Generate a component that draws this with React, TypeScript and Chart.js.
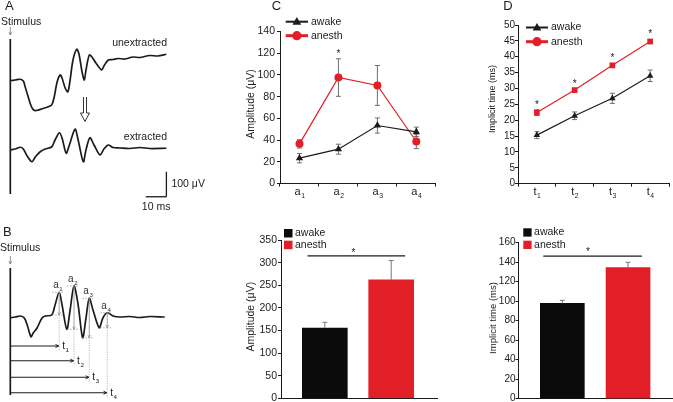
import React, { useEffect, useRef } from 'react';
import { Chart, registerables } from 'chart.js';

Chart.register(...registerables);

const FONT = "'Liberation Sans', Arial, Helvetica, sans-serif";
const INK = '#1b1b1b';
const RED = '#e21f26';

// ---------- Panel A / B waveforms (time in ms, amplitude in µV relative to each trace's baseline) ----------
const unextractedTime = [0, 2.4, 4.8, 6.3, 7.2, 8.7, 10.1, 11.3, 12.6, 15.5, 19.3, 20.3, 21.3, 22.7, 24.2, 25.1, 26.6, 27.9, 29, 30.4, 32.2, 33.3, 34.8, 35.9, 36.7, 38.3, 39.6, 41.5, 44.3, 45.4, 47.5, 49.8, 52.2, 55.6, 59.4, 62.8, 67.6, 71.5, 75.7];
const unextractedAmp = [0, 3, 6, -1, -24, -65, -101, -117, -119, -112, -101, -93, -65, -5, 23, 11, -29, -44, 3, 83, 126, 107, 35, 3, 43, 103, 95, 71, 43, 59, 83, 85, 89, 87, 95, 93, 101, 99, 106];
const extractedTime = [0, 2.4, 4.8, 6.3, 8.2, 10.5, 12.1, 14.5, 16.9, 20.1, 21.7, 23.8, 25.1, 27.1, 28.5, 31.4, 32.9, 35.4, 36.7, 38.6, 40.6, 43.5, 45.4, 47.5, 49.8, 53.1, 58, 62.8, 67.6, 75.7];
const extractedAmp = [0, 4, 11, 4, -24, -47, -28, -7, 4, 13, 40, 69, 48, -13, 16, 83, 40, -47, 0, 49, 20, -20, 4, 20, 10, 8, 6, 10, 6, 7];
const bTime = [0, 2.4, 4.8, 6.8, 8.2, 10, 11.1, 12.9, 15.3, 16.9, 20.1, 21.7, 23.7, 25.1, 27.4, 29, 30.9, 32.9, 35.1, 36.7, 38.3, 40.1, 43.1, 44.9, 47, 49.9, 53.1, 58, 62.8, 67.6, 74.9];
const bAmp = [0, 3, 7, -1, -29, -76, -61, -42, -2, 7, 11, 51, 102, 51, -46, 31, 127, 51, -80, -1, 78, 31, -40, -1, 20, 7, 3, 5, 1, 5, 3];
const bPeakLabels = ['1', '2', '3', '4'];
const bPeakTime = [23.7, 30.9, 38.3, 47];
const bPeakAmp = [102, 127, 78, 20];
const bTroughAmp = [11, -46, -80, -40];

// ---------- Panel C ----------
const ampCategories = ['1', '2', '3', '4'];
const ampAwake = [23.3, 31.6, 53.4, 47.6];
const ampAwakeErr = [4.3, 4.6, 7, 4.3];
const ampAnesth = [36.5, 97.6, 90.3, 38.7];
const ampAnesthErr = [3.8, 17.3, 18.4, 6.6];
const ampStars: (number | null)[] = [null, 121.6, null, null];
const groups = ['awake', 'anesth'];
const ampSum = [155, 262];
const ampSumErr = [13, 42.5];
const ampSigX = [-0.26, 1.21];
const ampSigY = 315;
const ampSumStar = [0.43, 328];

// ---------- Panel D ----------
const timeCategories = ['1', '2', '3', '4'];
const timeAwake = [15.3, 21.4, 26.9, 34];
const timeAwakeErr = [1.1, 1.2, 1.6, 1.8];
const timeAnesth = [22.4, 29.5, 37.3, 44.8];
const timeAnesthErr = [0.9, 0.5, 0.5, 0.7];
const timeStars: (number | null)[] = [25.8, 32.4, 40.5, 47.9];
const timeSum = [97.8, 134.4];
const timeSumErr = [3.1, 5.5];
const timeSigX = [-0.29, 1.21];
const timeSigY = 146.3;
const timeSumStar = [0.39, 153];

// ---------- drawing helpers ----------
function txt(ctx: any, s: string, x: number, y: number, size: number, align = 'left', color = INK) {
  ctx.save();
  ctx.font = `${size}px ${FONT}`;
  ctx.fillStyle = color;
  ctx.textAlign = align;
  ctx.textBaseline = 'middle';
  ctx.fillText(s, x, y);
  ctx.restore();
}
function vTitle(ctx: any, s: string, x: number, y: number, size: number) {
  ctx.save();
  ctx.translate(x, y);
  ctx.rotate(-Math.PI / 2);
  txt(ctx, s, 0, 0, size, 'center');
  ctx.restore();
}
function subLabel(ctx: any, main: string, sub: string, cx: number, baseline: number, size: number, color = INK, align = 'center') {
  ctx.save();
  ctx.fillStyle = color;
  ctx.textAlign = 'left';
  ctx.textBaseline = 'alphabetic';
  ctx.font = `${size}px ${FONT}`;
  const wm = ctx.measureText(main).width;
  const ss = size * 0.62;
  ctx.font = `${ss}px ${FONT}`;
  const ws = ctx.measureText(sub).width;
  const x0 = align === 'center' ? cx - (wm + ws) / 2 : cx;
  ctx.font = `${size}px ${FONT}`;
  ctx.fillText(main, x0, baseline);
  ctx.font = `${ss}px ${FONT}`;
  ctx.fillText(sub, x0 + wm + 0.6, baseline + size * 0.32);
  ctx.restore();
}
function star(ctx: any, x: number, yc: number, size = 10) {
  ctx.save();
  ctx.font = `${size}px ${FONT}`;
  ctx.fillStyle = INK;
  ctx.textAlign = 'center';
  ctx.textBaseline = 'alphabetic';
  ctx.fillText('*', x, yc + size * 0.58);
  ctx.restore();
}
function seg(ctx: any, x1: number, y1: number, x2: number, y2: number, color = INK, w = 1, dash: number[] = []) {
  ctx.save();
  ctx.strokeStyle = color;
  ctx.lineWidth = w;
  ctx.setLineDash(dash);
  ctx.beginPath();
  ctx.moveTo(x1, y1);
  ctx.lineTo(x2, y2);
  ctx.stroke();
  ctx.restore();
}
function arrow(ctx: any, x1: number, y1: number, x2: number, y2: number, color = INK, w = 1, head = 4) {
  seg(ctx, x1, y1, x2, y2, color, w);
  const a = Math.atan2(y2 - y1, x2 - x1);
  ctx.save();
  ctx.strokeStyle = color;
  ctx.lineWidth = w;
  ctx.beginPath();
  ctx.moveTo(x2 - head * Math.cos(a - 0.45), y2 - head * Math.sin(a - 0.45));
  ctx.lineTo(x2, y2);
  ctx.lineTo(x2 - head * Math.cos(a + 0.45), y2 - head * Math.sin(a + 0.45));
  ctx.stroke();
  ctx.restore();
}
function errBar(ctx: any, x: number, yTop: number, yBot: number, color: string, cap = 5) {
  seg(ctx, x, yTop, x, yBot, color, 1);
  seg(ctx, x - cap / 2, yTop, x + cap / 2, yTop, color, 1);
  seg(ctx, x - cap / 2, yBot, x + cap / 2, yBot, color, 1);
}
function marker(ctx: any, kind: string, x: number, y: number, r: number, color: string) {
  ctx.save();
  ctx.fillStyle = color;
  ctx.beginPath();
  if (kind === 'triangle') {
    ctx.moveTo(x, y - r);
    ctx.lineTo(x + r * 0.95, y + r * 0.65);
    ctx.lineTo(x - r * 0.95, y + r * 0.65);
    ctx.closePath();
  } else if (kind === 'rect') {
    ctx.rect(x - r, y - r, 2 * r, 2 * r);
  } else {
    ctx.arc(x, y, r, 0, Math.PI * 2);
  }
  ctx.fill();
  ctx.restore();
}

// ---------- line chart (top panels C / D) ----------
function lineConfig(p: any) {
  const decor = {
    id: 'decor' + p.letter,
    beforeDatasetsDraw(chart: any) {
      const ctx = chart.ctx;
      const xs = chart.scales.x;
      const ys = chart.scales.y;
      [[p.awake, p.awakeErr], [p.anesth, p.anesthErr]].forEach(([vals, errs]: any) => {
        vals.forEach((v: number, i: number) => {
          errBar(ctx, xs.getPixelForValue(i), ys.getPixelForValue(v + errs[i]), ys.getPixelForValue(v - errs[i]), '#6f6f6f', 5);
        });
      });
    },
    afterDraw(chart: any) {
      const ctx = chart.ctx;
      const xs = chart.scales.x;
      const ys = chart.scales.y;
      const area = chart.chartArea;
      p.labels.forEach((s: string, i: number) => {
        subLabel(ctx, p.mainLabel, s, xs.getPixelForValue(i), area.bottom + 11, 11);
      });
      p.stars.forEach((v: number | null, i: number) => {
        if (v != null) star(ctx, xs.getPixelForValue(i), ys.getPixelForValue(v), 10);
      });
      const L = p.legend;
      seg(ctx, L.x1, L.y1, L.x2, L.y1, INK, 2);
      marker(ctx, 'triangle', (L.x1 + L.x2) / 2, L.y1, 4.6, INK);
      txt(ctx, 'awake', L.x2 + 3, L.y1, 10.5);
      seg(ctx, L.x1, L.y2, L.x2, L.y2, RED, 3);
      marker(ctx, 'circle', (L.x1 + L.x2) / 2, L.y2, 4.6, RED);
      txt(ctx, 'anesth', L.x2 + 3, L.y2, 10.5);
      vTitle(ctx, p.title, p.titleX, p.titleY, p.titleSize);
      txt(ctx, p.letter, p.letterX, p.letterY, 13, 'center');
    },
  };
  return {
    type: 'line',
    data: {
      labels: p.labels,
      datasets: [
        { label: 'awake', data: p.awake, borderColor: INK, backgroundColor: INK, borderWidth: 1.2, pointStyle: 'triangle', pointRadius: p.triR, pointBorderWidth: 0, tension: 0 },
        { label: 'anesth', data: p.anesth, borderColor: RED, backgroundColor: RED, borderWidth: 1.2, pointStyle: p.redStyle, pointRadius: p.redR, pointBorderWidth: 0, tension: 0 },
      ],
    },
    options: {
      animation: false,
      responsive: false,
      devicePixelRatio: 1,
      layout: { padding: { left: 0, right: p.padRight, top: p.padTop, bottom: 0 } },
      plugins: { legend: { display: false }, tooltip: { enabled: false } },
      scales: {
        x: {
          offset: true,
          grid: { display: true, drawOnChartArea: false, offset: true, drawTicks: true, tickLength: 3, color: INK },
          border: { display: true, color: INK, width: 1 },
          ticks: { display: false },
          afterFit: (s: any) => { s.height = p.xHeight; },
        },
        y: {
          min: 0,
          max: p.yMax,
          ticks: { stepSize: p.step, padding: p.tickPad, color: INK, font: { family: FONT, size: p.tickSize } },
          grid: { display: true, drawOnChartArea: false, drawTicks: true, tickLength: 3, color: INK },
          border: { display: true, color: INK, width: 1 },
          afterFit: (s: any) => { s.width = p.yWidth; },
        },
      },
    },
    plugins: [decor],
  };
}

// ---------- bar chart (bottom panels C / D) ----------
function barConfig(p: any) {
  const decor = {
    id: 'bdecor' + p.id,
    afterDatasetsDraw(chart: any) {
      const ctx = chart.ctx;
      const xs = chart.scales.x;
      const ys = chart.scales.y;
      p.values.forEach((v: number, i: number) => {
        const x = xs.getPixelForValue(i);
        const yt = ys.getPixelForValue(v + p.errs[i]);
        seg(ctx, x, ys.getPixelForValue(v), x, yt, '#777', 1);
        seg(ctx, x - 2.5, yt, x + 2.5, yt, '#777', 1);
      });
      seg(ctx, xs.getPixelForValue(p.sigX[0]), ys.getPixelForValue(p.sigY), xs.getPixelForValue(p.sigX[1]), ys.getPixelForValue(p.sigY), INK, 1.2);
      star(ctx, xs.getPixelForValue(p.star[0]), ys.getPixelForValue(p.star[1]), 10);
      const L = p.legend;
      ctx.fillStyle = '#0b0b0b';
      ctx.fillRect(L.x, L.y1, L.s, L.s);
      ctx.fillStyle = RED;
      ctx.fillRect(L.x, L.y2, L.s, L.s);
      txt(ctx, groups[0], L.x + L.s + 2.5, L.y1 + L.s / 2, 10.5);
      txt(ctx, groups[1], L.x + L.s + 2.5, L.y2 + L.s / 2, 10.5);
      vTitle(ctx, p.title, p.titleX, p.titleY, p.titleSize);
    },
  };
  return {
    type: 'bar',
    data: {
      datasets: [
        { label: groups[0], data: [{ x: 0, y: p.values[0] }], backgroundColor: '#0b0b0b', barThickness: p.barW, grouped: false },
        { label: groups[1], data: [{ x: 1, y: p.values[1] }], backgroundColor: RED, barThickness: p.barW, grouped: false },
      ],
    },
    options: {
      animation: false,
      responsive: false,
      devicePixelRatio: 1,
      layout: { padding: { left: 0, right: p.padRight, top: p.padTop, bottom: 0 } },
      plugins: { legend: { display: false }, tooltip: { enabled: false } },
      scales: {
        x: {
          type: 'linear',
          offset: false,
          min: p.xMin,
          max: p.xMax,
          grid: { display: false },
          border: { display: true, color: INK, width: 1 },
          ticks: { display: false },
          afterFit: (s: any) => { s.height = p.xHeight; },
        },
        y: {
          min: 0,
          max: p.yMax,
          ticks: { stepSize: p.step, padding: p.tickPad, color: INK, font: { family: FONT, size: p.tickSize } },
          grid: { display: true, drawOnChartArea: false, drawTicks: true, tickLength: 3, color: INK },
          border: { display: true, color: INK, width: 1 },
          afterFit: (s: any) => { s.width = p.yWidth; },
        },
      },
    },
    plugins: [decor],
  };
}

// ---------- waveform chart (panels A / B) ----------
const OFF_UN = 1285;
const OFF_EX = 1008;
const OFF_B = 337;
const tRowAmp = [-113, -172, -238, -300];

function waveConfig() {
  const series = (ts: number[], vs: number[], off: number) => ts.map((t, i) => ({ x: t, y: vs[i] + off }));
  const deco = {
    id: 'waves',
    afterDraw(chart: any) {
      const ctx = chart.ctx;
      const X = (t: number) => chart.scales.x.getPixelForValue(t);
      const Y = (v: number) => chart.scales.y.getPixelForValue(v);
      const x0 = X(0);
      // Panel A
      txt(ctx, 'A', 5, 6.5, 13);
      txt(ctx, 'Stimulus', 1, 22, 10.5);
      arrow(ctx, x0, 27, x0, 35, '#777', 0.8, 3);
      seg(ctx, x0, 39, x0, 194, INK, 1.7);
      txt(ctx, 'unextracted', 167, 43.5, 10.5, 'right');
      txt(ctx, 'extracted', 167, 137, 10.5, 'right');
      ctx.save();
      ctx.strokeStyle = '#333';
      ctx.lineWidth = 1;
      ctx.beginPath();
      ctx.moveTo(83.5, 97); ctx.lineTo(83.5, 113); ctx.lineTo(80.5, 113); ctx.lineTo(85, 121.5);
      ctx.lineTo(89.5, 113); ctx.lineTo(86.5, 113); ctx.lineTo(86.5, 97);
      ctx.stroke();
      ctx.restore();
      const sbT = 75.7, sbV = 821;
      seg(ctx, X(sbT - 10), Y(sbV), X(sbT), Y(sbV), INK, 1.3);
      seg(ctx, X(sbT), Y(sbV), X(sbT), Y(sbV + 100), INK, 1.3);
      txt(ctx, '100 μV', X(sbT) + 5, (Y(sbV) + Y(sbV + 100)) / 2, 10.5);
      txt(ctx, '10 ms', X(sbT - 5), Y(sbV) + 10.5, 10.5, 'center');
      // Panel B
      txt(ctx, 'B', 3, 232, 13);
      txt(ctx, 'Stimulus', 0, 248.5, 10.5);
      arrow(ctx, x0, 256, x0, 264, '#777', 0.8, 3);
      seg(ctx, x0, 268, x0, 395, INK, 1.7);
      bPeakTime.forEach((t, i) => {
        const x = X(t);
        const yp = Y(OFF_B + bPeakAmp[i]);
        const yt = Y(OFF_B + bTroughAmp[i]);
        const yr = Y(OFF_B + tRowAmp[i]);
        seg(ctx, x - 7, yp, x + 4, yp, '#999', 0.8, [1.5, 1.5]);
        seg(ctx, x - 7, yt, x + 4, yt, '#999', 0.8, [1.5, 1.5]);
        seg(ctx, x, yt, x, yr + 5, '#aaa', 0.8, [1.2, 1.2]);
        arrow(ctx, x, yp, x, yt, '#999', 0.9, 3);
        arrow(ctx, x0, yr, x - 0.5, yr, INK, 1, 3.5);
        subLabel(ctx, 't', bPeakLabels[i], x + 3, yr + 3, 10, INK, 'left');
        subLabel(ctx, 'a', bPeakLabels[i], x - 1.5, yp - 4, 10, '#333');
      });
    },
  };
  const ds = (data: any) => ({ data, showLine: true, borderColor: INK, borderWidth: 1.7, pointRadius: 0, tension: 0.3 });
  return {
    type: 'scatter',
    data: {
      datasets: [
        ds(series(unextractedTime, unextractedAmp, OFF_UN)),
        ds(series(extractedTime, extractedAmp, OFF_EX)),
        ds(series(bTime, bAmp, OFF_B)),
      ],
    },
    options: {
      animation: false,
      responsive: false,
      devicePixelRatio: 1,
      layout: { padding: 0 },
      plugins: { legend: { display: false }, tooltip: { enabled: false } },
      scales: {
        x: { type: 'linear', min: -5, max: 101.7, display: false },
        y: { type: 'linear', min: 0, max: 1608, display: false },
      },
    },
    plugins: [deco],
  };
}

function ChartCanvas({ left, top, width, height, build }: any) {
  const ref = useRef<HTMLCanvasElement>(null);
  useEffect(() => {
    const chart = new Chart(ref.current as HTMLCanvasElement, build() as any);
    return () => chart.destroy();
  }, []);
  return (
    <canvas
      ref={ref}
      width={width}
      height={height}
      style={{ position: 'absolute', left, top, width, height, display: 'block' }}
    />
  );
}

export default function App() {
  return (
    <div style={{ position: 'absolute', left: 0, top: 0, width: 673, height: 402, overflow: 'hidden', background: '#fff' }}>
      <ChartCanvas left={0} top={0} width={220} height={402} build={waveConfig} />
      <ChartCanvas
        left={220} top={0} width={220} height={200}
        build={() => lineConfig({
          letter: 'C', letterX: 56.5, letterY: 6.5, labels: ampCategories, mainLabel: 'a',
          awake: ampAwake, awakeErr: ampAwakeErr, anesth: ampAnesth, anesthErr: ampAnesthErr, stars: ampStars,
          yMax: 140, step: 20, tickPad: 2, tickSize: 10.5, yWidth: 60, xHeight: 16.5, padTop: 31.5, padRight: 3,
          triR: 4.2, redStyle: 'circle', redR: 4, title: 'Amplitude (μV)', titleX: 31, titleY: 104, titleSize: 10.5,
          legend: { x1: 65.7, x2: 88, y1: 21.7, y2: 35.7 },
        })}
      />
      <ChartCanvas
        left={440} top={0} width={233} height={200}
        build={() => lineConfig({
          letter: 'D', letterX: 68, letterY: 6, labels: timeCategories, mainLabel: 't',
          awake: timeAwake, awakeErr: timeAwakeErr, anesth: timeAnesth, anesthErr: timeAnesthErr, stars: timeStars,
          yMax: 50, step: 5, tickPad: 0, tickSize: 10, yWidth: 78, xHeight: 16.3, padTop: 25, padRight: 1,
          triR: 3.8, redStyle: 'rect', redR: 4, title: 'Implicit time (ms)', titleX: 52.3, titleY: 99, titleSize: 9,
          legend: { x1: 86, x2: 108, y1: 27.5, y2: 41.7 },
        })}
      />
      <ChartCanvas
        left={220} top={210} width={220} height={200}
        build={() => barConfig({
          id: 'c', values: ampSum, errs: ampSumErr, sigX: ampSigX, sigY: ampSigY, star: ampSumStar,
          yMax: 350, step: 50, tickPad: 1, tickSize: 10.5, yWidth: 61, xHeight: 11.7, padTop: 30, padRight: 3,
          xMin: -0.66, xMax: 1.69, barW: 45, title: 'Amplitude (μV)', titleX: 30.7, titleY: 106.7, titleSize: 10.5,
          legend: { x: 64, y1: 19, y2: 30.7, s: 8.5 },
        })}
      />
      <ChartCanvas
        left={440} top={210} width={233} height={200}
        build={() => barConfig({
          id: 'd', values: timeSum, errs: timeSumErr, sigX: timeSigX, sigY: timeSigY, star: timeSumStar,
          yMax: 160, step: 20, tickPad: 0, tickSize: 10, yWidth: 78.5, xHeight: 11.3, padTop: 32.7, padRight: 1,
          xMin: -0.667, xMax: 1.669, barW: 44, title: 'Implicit time (ms)', titleX: 53.3, titleY: 108, titleSize: 9.5,
          legend: { x: 83.3, y1: 18.3, y2: 30.7, s: 8.3 },
        })}
      />
    </div>
  );
}
